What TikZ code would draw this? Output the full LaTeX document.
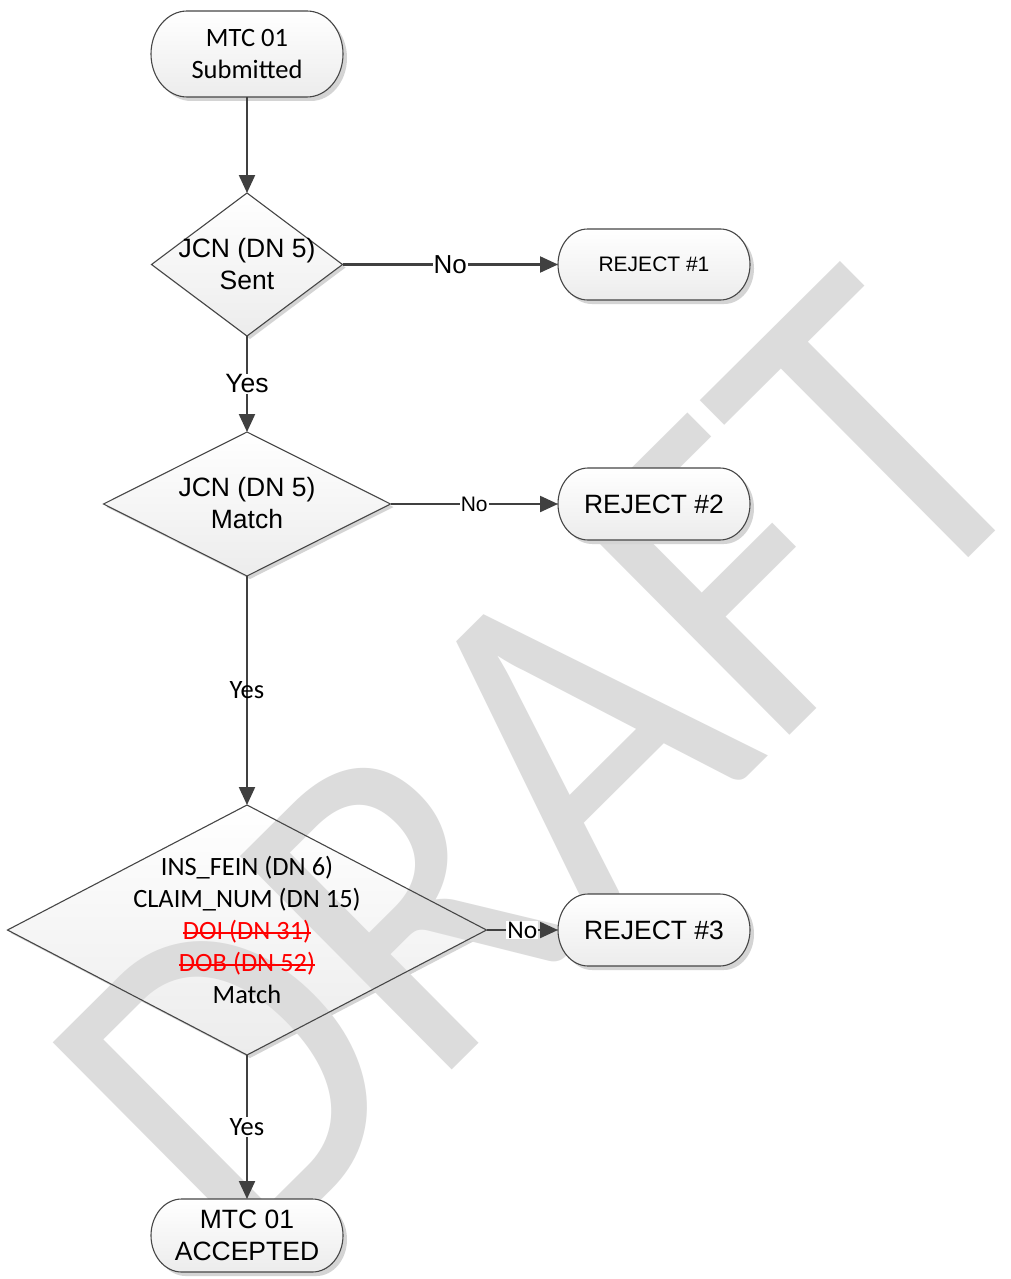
\documentclass[tikz,border=0pt]{standalone}
\usepackage{fontspec}
\setmainfont{Carlito}
\newfontfamily\arialf{Liberation Sans}
\newfontfamily\calf{Carlito}
\newsavebox\strkbox
\newcommand{\strk}[1]{\sbox\strkbox{#1}\rlap{\usebox\strkbox}\rule[0.2em]{\wd\strkbox}{1.8pt}}
\usetikzlibrary{shapes.geometric,arrows.meta,shadows}
\definecolor{wm}{RGB}{220,220,220}
\definecolor{ln}{RGB}{64,64,64}
\definecolor{bd}{RGB}{70,70,70}
\definecolor{shd}{RGB}{212,212,212}
\definecolor{fbot}{RGB}{236,236,236}
% stadium outline: style, cx, cy, w, h
\newcommand{\stadpath}[5]{%
  \path[#1] ({#2-#4/2+0.42*#5},{#3+#5/2}) -- ({#2+#4/2-0.42*#5},{#3+#5/2})
    arc[start angle=90,end angle=-90,x radius={0.42*#5},y radius={#5/2}]
    -- ({#2-#4/2+0.42*#5},{#3-#5/2})
    arc[start angle=270,end angle=90,x radius={0.42*#5},y radius={#5/2}] -- cycle;}
% terminal: name, cx, cy, w, h, font, text
\newcommand{\termbox}[7]{%
  \stadpath{fill=shd}{#2+4}{#3-4}{#4}{#5}
  \stadpath{top color=white,bottom color=fbot,draw=bd,line width=1.1pt}{#2}{#3}{#4}{#5}
  \node[rectangle,inner sep=0pt,outer sep=0pt,minimum width=#4,minimum height=#5,align=center,font=#6] (#1) at (#2,#3) {#7};}
\begin{document}
\begin{tikzpicture}[x=1pt,y=1pt,
  arr/.style={draw=ln,line width=2.2pt,-{Triangle[length=18pt,width=16pt]}},
  dia/.style={diamond,inner sep=0pt,outer sep=0pt,top color=white,bottom color=fbot,
    drop shadow={shadow xshift=3pt,shadow yshift=-3pt,fill=shd,opacity=1}},
  arialtxt/.style={font=\arialf\fontsize{26.5}{32}\selectfont,align=center},
  caltxt/.style={font=\calf\fontsize{26.4}{32}\selectfont,align=center},
  lblbg/.style={fill=white,inner sep=1pt}]
\useasboundingbox (0,0) rectangle (1010,-1279);
\fill[white] (0,0) rectangle (1010,-1279);

% diamond fills
\node[dia,minimum width=191,minimum height=143] (d1) at (247,-264.5) {};
\node[dia,minimum width=287,minimum height=144] (d2) at (247,-504) {};
\node[dia,minimum width=479,minimum height=250] (d3) at (247,-930) {};

% watermark
\node[rotate=44.8,yscale=1.1,inner sep=0pt,font=\calf\fontsize{426}{426}\selectfont,text=wm] (wmk) at (544,-767) {DRAFT};

% diamond outlines
\foreach \d in {d1,d2,d3}
  \draw[bd,line width=1.1pt] (\d.north) -- (\d.east) -- (\d.south) -- (\d.west) -- cycle;

% terminals
\termbox{s}{247}{-54}{192}{86}{\calf\fontsize{26.5}{32}\selectfont}{MTC 01\\Submitted}
\termbox{r1}{654}{-264.5}{192}{71}{\arialf\fontsize{21}{25}\selectfont}{REJECT \#1}
\termbox{r2}{654}{-504}{192}{72}{\arialf\fontsize{26.5}{32}\selectfont}{REJECT \#2}
\termbox{r3}{654}{-930}{192}{72}{\arialf\fontsize{26.5}{32}\selectfont}{REJECT \#3}
\termbox{acc}{247}{-1235.5}{192}{73}{\arialf\fontsize{26.5}{32}\selectfont}{MTC 01\\ACCEPTED}

% diamond texts
\node[arialtxt] (d1t) at (247,-264) {JCN (DN 5)\\Sent};
\node[arialtxt] (d2t) at (247,-503) {JCN (DN 5)\\Match};
\node[caltxt] (d3t) at (247,-930) {INS\_FEIN (DN 6)\\CLAIM\_NUM (DN 15)\\\textcolor{red}{\strk{DOI (DN 31)}}\\\textcolor{red}{\strk{DOB (DN 52)}}\\Match};

% connectors
\draw[arr] (s.south) -- (d1.north);
\draw[arr] (d1.east) -- node[lblbg,font=\arialf\fontsize{26}{30}\selectfont] (n1) {No} (r1.west);
\draw[arr] (d1.south) -- node[lblbg,font=\arialf\fontsize{26.5}{30}\selectfont] (y1) {Yes} (d2.north);
\draw[arr] (d2.east) -- node[lblbg,font=\arialf\fontsize{21}{25}\selectfont] (n2) {No} (r2.west);
\draw[arr] (d2.south) -- node[inner sep=1pt,font=\calf\fontsize{26.5}{30}\selectfont] (y2) {Yes} (d3.north);
\draw[arr] (d3.east) -- node[lblbg,font=\calf\fontsize{25.5}{30}\selectfont] (n3) {No} (r3.west);
\draw[arr] (d3.south) -- node[lblbg,font=\calf\fontsize{26.5}{30}\selectfont] (y3) {Yes} (acc.north);
\end{tikzpicture}
\end{document}
